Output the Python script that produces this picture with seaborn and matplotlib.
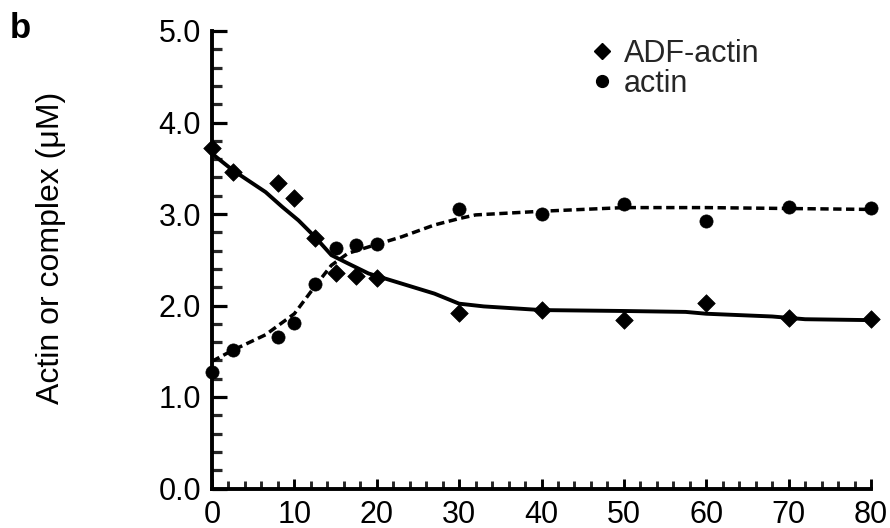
import matplotlib
matplotlib.use("Agg")
import matplotlib.pyplot as plt
import seaborn as sns
from matplotlib.lines import Line2D
from matplotlib.ticker import MultipleLocator

# ---- data ----
time_min = [0, 2.5, 8, 10, 12.5, 15, 17.5, 20, 30, 40, 50, 60, 70, 80]
adf_actin = [3.72, 3.46, 3.34, 3.17, 2.74, 2.36, 2.32, 2.30, 1.92, 1.95, 1.84, 2.03, 1.86, 1.85]
actin = [1.27, 1.51, 1.66, 1.81, 2.24, 2.63, 2.66, 2.67, 3.05, 3.00, 3.11, 2.92, 3.08, 3.07]

adf_fit_x = [0, 2.5, 6.5, 8.5, 10.5, 12.5, 14.5, 16.5, 19, 23, 27, 30, 33, 40, 50, 57.5, 60, 68, 72, 80]
adf_fit_y = [3.66, 3.48, 3.24, 3.08, 2.93, 2.75, 2.55, 2.46, 2.35, 2.24, 2.13, 2.02, 1.99, 1.95, 1.94, 1.93, 1.91, 1.88, 1.85, 1.84]
actin_fit_x = [0, 2.5, 6.5, 10, 12.5, 14.5, 16.5, 19, 23, 27, 30, 32, 40, 50, 60, 80]
actin_fit_y = [1.39, 1.51, 1.68, 1.91, 2.21, 2.44, 2.57, 2.64, 2.75, 2.88, 2.95, 2.99, 3.03, 3.07, 3.07, 3.05]

x_ticks = [0, 10, 20, 30, 40, 50, 60, 70, 80]
y_ticks = [0.0, 1.0, 2.0, 3.0, 4.0, 5.0]
series_labels = ["ADF-actin", "actin"]
y_label = "Actin or complex (\u03bcM)"
panel_label = "b"

sns.set_style("ticks")
plt.rcParams["font.family"] = ["Liberation Sans", "DejaVu Sans"]

fig = plt.figure(figsize=(8.9, 5.28), dpi=100)
ax = fig.add_axes([212 / 890, 1 - 488.5 / 528, (871 - 212) / 890, (488.5 - 31) / 528])

lw_axis = 2.8
sns.lineplot(x=adf_fit_x, y=adf_fit_y, ax=ax, color="black", lw=2.8,
             estimator=None, sort=False, zorder=3)
sns.lineplot(x=actin_fit_x, y=actin_fit_y, ax=ax, color="black", lw=2.5,
             estimator=None, sort=False, zorder=3, linestyle=(0, (2.4, 1.3)))

sns.scatterplot(x=time_min, y=adf_actin, ax=ax, marker="D", s=80, color="black",
                edgecolor="black", linewidth=0.5, clip_on=False, zorder=4)
sns.scatterplot(x=time_min, y=actin, ax=ax, marker="o", s=90, color="black",
                edgecolor="black", linewidth=0.5, clip_on=False, zorder=4)

ax.set_xlim(0, 80)
ax.set_ylim(0, 5)
ax.set_xticks(x_ticks)
ax.set_xticklabels([str(v) for v in x_ticks])
ax.set_yticks(y_ticks)
ax.set_yticklabels([f"{v:.1f}" for v in y_ticks])
ax.xaxis.set_minor_locator(MultipleLocator(2))
ax.yaxis.set_minor_locator(MultipleLocator(0.2))

for side in ["top", "right"]:
    ax.spines[side].set_visible(False)
for side in ["left", "bottom"]:
    ax.spines[side].set_linewidth(lw_axis)
    ax.spines[side].set_color("black")

ax.tick_params(axis="y", which="major", direction="in", length=11, width=2.3, pad=8,
               labelsize=22, colors="black")
ax.tick_params(axis="y", which="minor", direction="in", length=7, width=2.3)
ax.tick_params(axis="x", which="major", direction="in", length=7.5, width=2.1, pad=8,
               labelsize=22, colors="black")
ax.tick_params(axis="x", which="minor", direction="in", length=5.5, width=2.1)

ax.set_xlabel("")
ax.set_ylabel(y_label, fontsize=23, color="black")
ax.yaxis.set_label_coords(-0.222, 0.525)

handles = [
    Line2D([], [], marker="D", color="black", linestyle="none", markersize=8),
    Line2D([], [], marker="o", color="black", linestyle="none", markersize=8.5),
]
leg = ax.legend(handles, series_labels, loc="upper left",
                bbox_to_anchor=(0.555, 1.017), frameon=False,
                handlelength=0.6, handletextpad=0.4, labelspacing=0.0,
                borderpad=0, prop={"size": 22})

fig.text(20 / 890, 1 - 28 / 528, panel_label, fontsize=25, fontweight="bold",
         ha="center", va="center", color="black")

fig.savefig("out.png", dpi=100)
